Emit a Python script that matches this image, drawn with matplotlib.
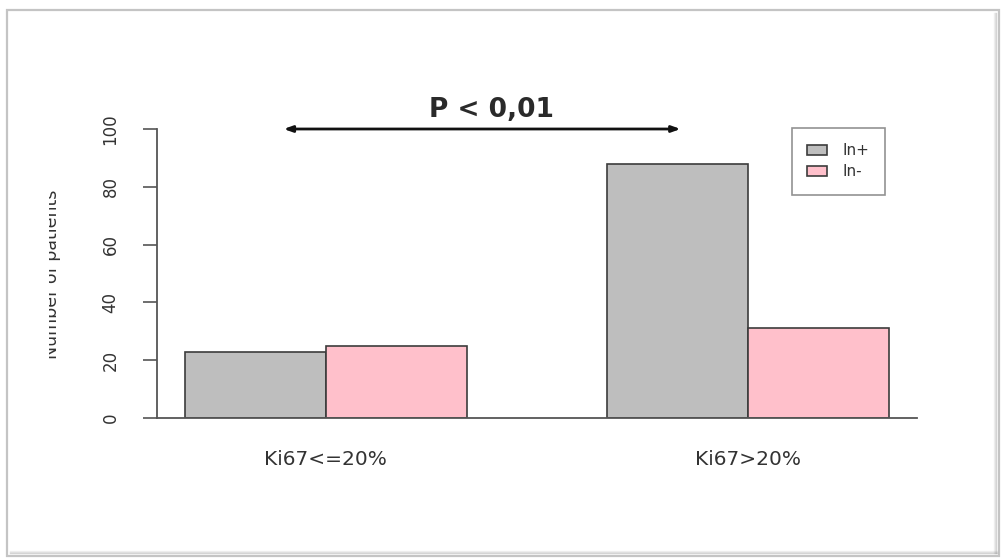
import numpy as np
import matplotlib
matplotlib.use("Agg")
import matplotlib.pyplot as plt
from matplotlib.patches import Rectangle
from matplotlib.transforms import Bbox

# Data
categories = ["Ki67<=20%", "Ki67>20%"]
groups = ["In+", "In-"]
in_pos = [23, 88]
in_neg = [25, 31]
colors = ["#bebebe", "#ffc0cb"]
yticks = [0, 20, 40, 60, 80, 100]
p_text = "P < 0,01"

plt.rcParams['font.family'] = ['DejaVu Sans']
W, H = 1003, 560
fig = plt.figure(figsize=(W / 100, H / 100), dpi=100)

def fx(px):
    return px / W

def fy(py):
    return 1 - py / H

# outer frame with a soft shadow
fig.patches.append(Rectangle((fx(7), fy(556)), fx(992), (556 - 10) / H,
                             transform=fig.transFigure, fill=False,
                             edgecolor="#c4c4c4", lw=1.6))
for k, a in enumerate([0.3, 0.18, 0.1]):
    fig.lines.append(plt.Line2D([fx(10), fx(997)], [fy(553 - k), fy(553 - k)],
                                transform=fig.transFigure, color="gray", alpha=a, lw=1))
    fig.lines.append(plt.Line2D([fx(996 - k), fx(996 - k)], [fy(13), fy(553)],
                                transform=fig.transFigure, color="gray", alpha=a, lw=1))

ax = fig.add_axes([fx(157), fy(418), fx(917) - fx(157), (418 - 129) / H])

# barplot layout: bar width 1, one gap between groups
left_edges = 1 + 3 * np.arange(len(categories))
ax.bar(left_edges, in_pos, width=1, align="edge", color=colors[0],
       edgecolor="#3c3c3c", lw=1.2, label=groups[0])
ax.bar(left_edges + 1, in_neg, width=1, align="edge", color=colors[1],
       edgecolor="#3c3c3c", lw=1.2, label=groups[1])

ax.set_xlim(0.8, 6.2)
ax.set_ylim(0, 100)
for s in ["top", "right"]:
    ax.spines[s].set_visible(False)
ax.spines["left"].set_bounds(0, 100)
for s in ["left", "bottom"]:
    ax.spines[s].set_color("#555555")
    ax.spines[s].set_linewidth(1.3)

ax.set_yticks(yticks)
ax.set_yticklabels([str(v) for v in yticks], rotation=90, va="center",
                   fontsize=12, color="#333333")
ax.tick_params(axis="y", length=10, width=1.2, color="#555555", pad=17)
ax.set_xticks(left_edges + 1)
ax.set_xticklabels(categories, fontsize=14.5, color="#333333")
ax.tick_params(axis="x", length=0, pad=23)

# y label, partly cut at the left edge
ylab = fig.text(fx(52), fy(274), "Number of patients", rotation=90,
                ha="center", va="center", fontsize=12.5, color="#333333")
ylab.set_clip_box(Bbox.from_extents(49, 0, W, H))
ylab.set_clip_on(True)

# significance arrow
ax.annotate("", xy=(1.70, 100), xytext=(4.52, 100), xycoords="data",
            arrowprops=dict(arrowstyle="<|-|>,head_length=0.5,head_width=0.18",
                            color="#111111", lw=2, shrinkA=0, shrinkB=0),
            annotation_clip=False)
ax.text(3.18, 106.6, p_text, ha="center", va="center", fontsize=19,
        fontweight="bold", color="#2a2a2a", clip_on=False)

leg = ax.legend(loc="upper left", bbox_to_anchor=(fx(792), fy(128)),
                bbox_transform=fig.transFigure, fontsize=11, frameon=True,
                fancybox=False, handlelength=1.3, handleheight=0.7,
                handletextpad=1.0, borderpad=1.0, labelspacing=0.4,
                borderaxespad=0)
leg.get_frame().set_edgecolor("#777777")
leg.get_frame().set_linewidth(1.2)
for t in leg.get_texts():
    t.set_color("#333333")

fig.savefig("out.png", dpi=100)
